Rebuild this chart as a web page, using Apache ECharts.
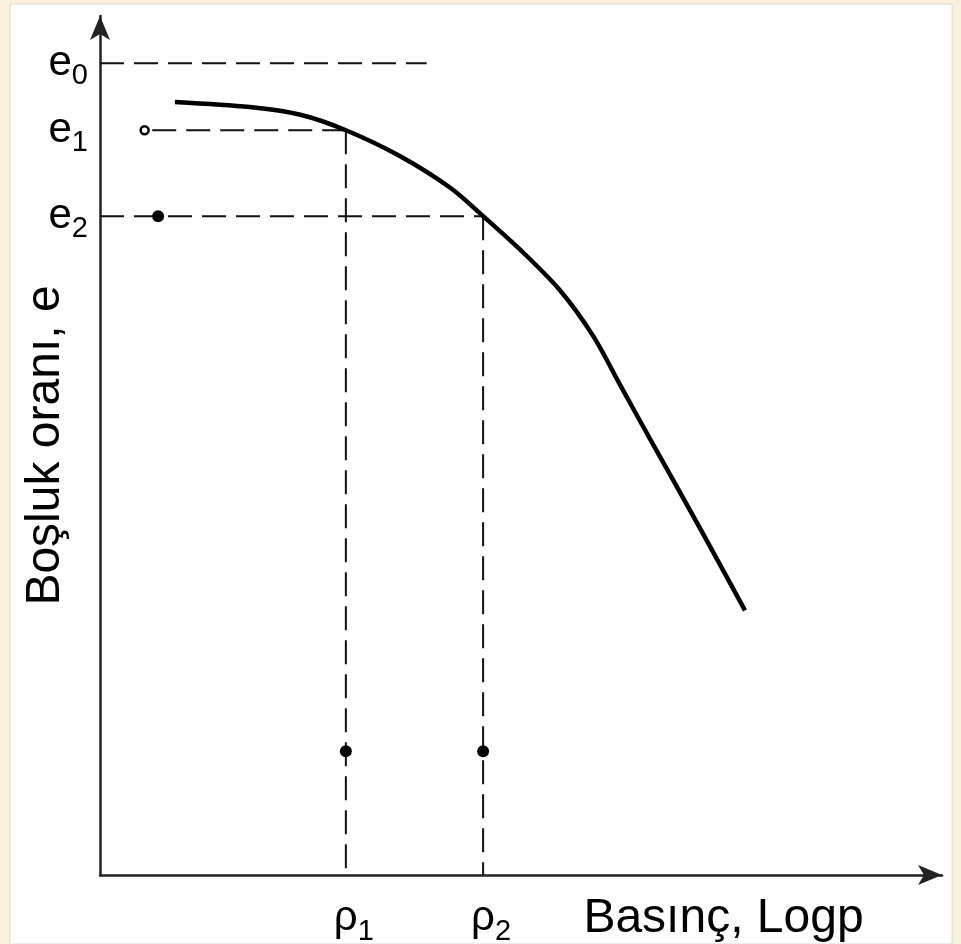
<!DOCTYPE html>
<html>
<head>
<meta charset="utf-8">
<script src="https://cdn.jsdelivr.net/npm/echarts@6/dist/echarts.min.js"></script>
<style>
  html, body { margin: 0; padding: 0; background: #fbf0da; }
  #chart { width: 961px; height: 944px; }
</style>
</head>
<body>
<div id="chart"></div>
<script>
// e - log p curve (x: log p units, y: void ratio units)
var curveX = [0.89, 1.78, 2.38, 2.92, 3.56, 4.16, 4.55, 4.99, 5.46, 5.86, 6.18, 6.53, 7.13, 7.66];
var curveY = [9.00, 8.94, 8.85, 8.67, 8.37, 8.00, 7.67, 7.28, 6.81, 6.27, 5.70, 5.08, 4.03, 3.08];

// reference levels
var eValues = [9.45, 8.67, 7.67];
var eSubs = ['0', '1', '2'];
var rhoValues = [2.92, 4.55];
var rhoSubs = ['1', '2'];

// dashed guide ends
var e0End = 3.88;
var e1Start = 0.62;

// loose points
var openPoint = [[0.53, 8.67]];
var dotPoints = [[0.69, 7.67], [2.92, 1.44], [4.55, 1.44]];

var FONT = 'Liberation Sans, Arial, sans-serif';

var curveData = curveX.map(function (x, i) { return [x, curveY[i]]; });

var dashStyle = { color: '#111', width: 2, type: [24, 10] };
function guide(points) {
    return {
        type: 'line',
        data: points,
        symbol: 'none',
        silent: true,
        lineStyle: dashStyle,
        z: 2
    };
}

var richText = {
    m: { fontSize: 42, fontFamily: FONT, color: '#000' },
    s: { fontSize: 29, fontFamily: FONT, color: '#000', padding: [26, 0, 0, 0] }
};

var myChart = echarts.init(document.getElementById('chart'));
var option = {
    backgroundColor: '#fbf0da',
    animation: false,
    graphic: [{
        type: 'rect',
        z: -10,
        shape: { x: 10, y: 4, width: 942, height: 940 },
        style: { fill: '#fff', stroke: '#d8d8d8', lineWidth: 1 }
    }],
    grid: { left: 100, right: 19, top: 16, bottom: 69, containLabel: false, outerBoundsMode: 'none' },
    xAxis: {
        type: 'value',
        min: 0,
        max: 10,
        name: 'Basınç, Logp',
        nameLocation: 'middle',
        nameGap: 20,
        nameMoveOverlap: false,
        nameTextStyle: {
            fontSize: 48, fontFamily: FONT, color: '#000',
            verticalAlign: 'top',
            padding: [0, 0, 0, 405]
        },
        axisLine: {
            lineStyle: { color: '#222', width: 2.5 },
            symbol: ['none', 'arrow'],
            symbolSize: [15, 24]
        },
        axisTick: { show: false },
        splitLine: { show: false },
        axisLabel: {
            customValues: rhoValues,
            margin: 16,
            padding: [0, 0, 0, 16],
            formatter: function (v) {
                var i = rhoValues.indexOf(v);
                return '{m|ρ}{s|' + rhoSubs[i] + '}';
            },
            rich: richText
        }
    },
    yAxis: {
        type: 'value',
        min: 0,
        max: 10,
        name: 'Boşluk oranı, e',
        nameLocation: 'middle',
        nameRotate: 90,
        nameGap: 30,
        nameMoveOverlap: false,
        nameTextStyle: { fontSize: 48, fontFamily: FONT, color: '#000' },
        axisLine: {
            lineStyle: { color: '#222', width: 2.5 },
            symbol: ['none', 'arrow'],
            symbolSize: [15, 24]
        },
        axisTick: { show: false },
        splitLine: { show: false },
        axisLabel: {
            customValues: eValues,
            margin: 12,
            formatter: function (v) {
                var i = eValues.indexOf(v);
                return '{m|e}{s|' + eSubs[i] + '}';
            },
            rich: richText
        }
    },
    series: [
        guide([[0, eValues[0]], [e0End, eValues[0]]]),
        guide([[e1Start, eValues[1]], [rhoValues[0], eValues[1]]]),
        guide([[0, eValues[2]], [rhoValues[1], eValues[2]]]),
        guide([[rhoValues[0], eValues[1]], [rhoValues[0], 0]]),
        guide([[rhoValues[1], eValues[2]], [rhoValues[1], 0]]),
        {
            type: 'line',
            data: curveData,
            smooth: 0.3,
            symbol: 'none',
            lineStyle: { color: '#000', width: 4.5 },
            z: 3
        },
        {
            type: 'scatter',
            data: openPoint,
            symbolSize: 8,
            itemStyle: { color: '#fff', borderColor: '#000', borderWidth: 2.5, opacity: 1 },
            z: 4
        },
        {
            type: 'scatter',
            data: dotPoints,
            symbolSize: 12,
            itemStyle: { color: '#000', opacity: 1 },
            z: 4
        }
    ]
};
myChart.setOption(option);
</script>
</body>
</html>
